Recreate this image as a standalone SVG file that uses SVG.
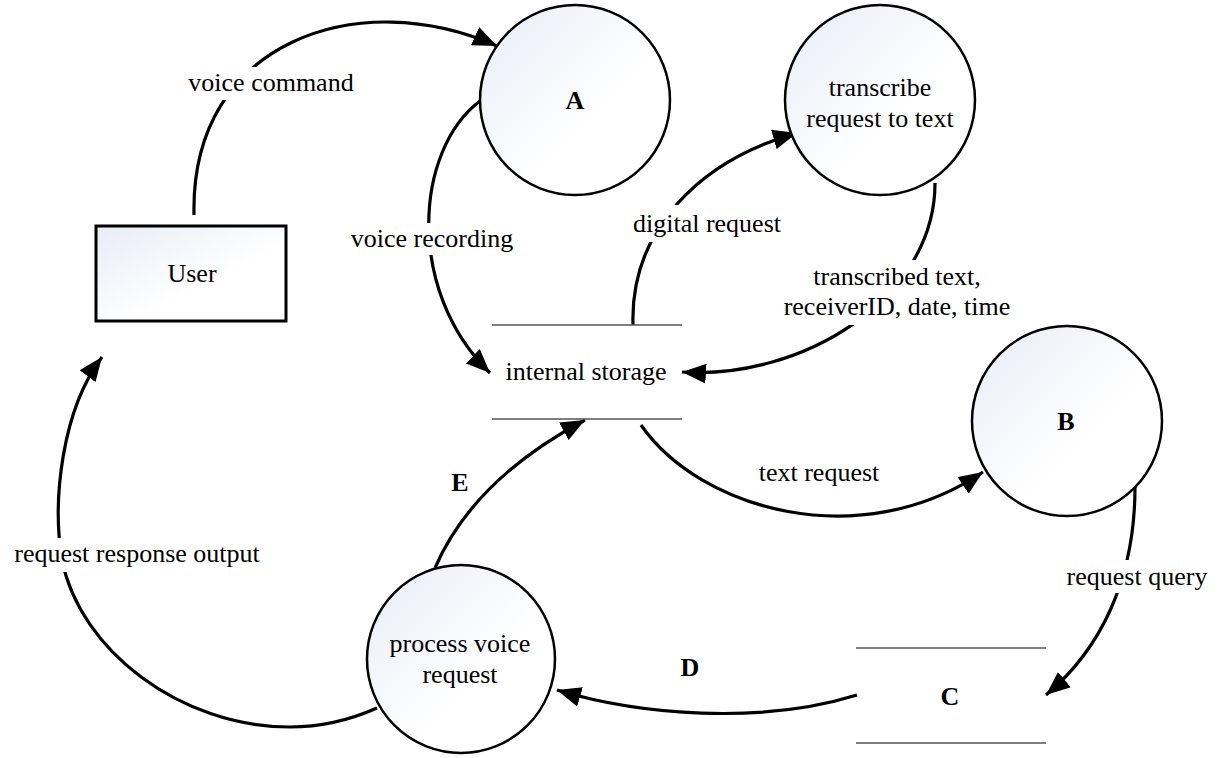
<svg xmlns="http://www.w3.org/2000/svg" width="1222" height="758" viewBox="0 0 1222 758" font-family="'Liberation Serif', 'Times New Roman', 'DejaVu Serif', serif">
<defs>
<linearGradient id="fill" x1="0" y1="0" x2="1" y2="1">
<stop offset="0" stop-color="#e8ecf6"/>
<stop offset="0.6" stop-color="#ffffff"/>
<stop offset="1" stop-color="#ffffff"/>
</linearGradient>
<marker id="arr" markerUnits="userSpaceOnUse" markerWidth="26" markerHeight="20" viewBox="0 0 26 20" refX="24" refY="10" orient="auto">
<path d="M0,0 L24,10 L0,20 Z" fill="#000"/>
</marker>
<style>
.t{font-family:'Liberation Serif','Times New Roman','DejaVu Serif',serif;font-size:26px;fill:#000;text-anchor:middle}
.b{font-weight:bold}
.proc{fill:url(#fill);stroke:#000;stroke-width:2.5}
.ent{fill:url(#fill);stroke:#000;stroke-width:3}
.store{stroke:#555;stroke-width:1.5}
.c{fill:none;stroke:#000;stroke-width:3.2;marker-end:url(#arr)}
.bg{fill:#fff}
</style>
</defs>
<rect width="1222" height="758" fill="#fff"/>
<g id="connectors">
<path class="c" d="M194,215 C190,40 360,-15 497,46"/>
<path class="c" d="M480,101 C415,150 405,290 490,373"/>
<path class="c" d="M633,325 C630,230 700,160 797,133"/>
<path class="c" d="M935,183 C935,300 800,380 682,372"/>
<path class="c" d="M641,425 C700,510 860,555 983,472"/>
<path class="c" d="M1135,487 C1135,580 1100,650 1046,695"/>
<path class="c" d="M857,695 C760,725 640,715 557,690"/>
<path class="c" d="M435,568 C460,510 510,460 585,420"/>
<path class="c" d="M377,708 C350,720 320,727 290,727 C180,727 80,650 62,560 C52,500 62,410 102,357"/>
<rect class="bg" x="184" y="67" width="174" height="33"/>
<text class="t" x="271" y="91">voice command</text>
<rect class="bg" x="350" y="223" width="164" height="32"/>
<text class="t" x="432" y="247">voice recording</text>
<rect class="bg" x="627" y="205" width="160" height="37"/>
<text class="t" x="707" y="232">digital request</text>
<rect class="bg" x="776" y="260" width="242" height="65"/>
<text class="t" x="897" y="285">transcribed text,</text>
<text class="t" x="897" y="315">receiverID, date, time</text>
<text class="t" x="819" y="481">text request</text>
<rect class="bg" x="1064" y="560" width="146" height="33"/>
<text class="t" x="1137" y="585">request query</text>
<rect class="bg" x="8" y="538" width="258" height="34"/>
<text class="t" x="137" y="562">request response output</text>
<text class="t b" x="690" y="676">D</text>
<text class="t b" x="460" y="491">E</text>
</g>
<g id="user">
<rect class="ent" x="96" y="226" width="190" height="95"/>
<text class="t" x="192" y="282">User</text>
</g>
<g id="A">
<circle class="proc" cx="575" cy="100" r="95"/>
<text class="t b" x="575" y="109">A</text>
</g>
<g id="transcribe">
<circle class="proc" cx="880" cy="100" r="95"/>
<text class="t" x="880" y="96">transcribe</text>
<text class="t" x="880" y="127">request to text</text>
</g>
<g id="storage">
<line class="store" x1="492" y1="325" x2="682" y2="325"/>
<line class="store" x1="492" y1="419" x2="682" y2="419"/>
<text class="t" x="586" y="380">internal storage</text>
</g>
<g id="B">
<circle class="proc" cx="1067" cy="421" r="95"/>
<text class="t b" x="1066" y="430">B</text>
</g>
<g id="C">
<line class="store" x1="856" y1="648" x2="1046" y2="648"/>
<line class="store" x1="856" y1="743" x2="1046" y2="743"/>
<text class="t b" x="950" y="705">C</text>
</g>
<g id="process">
<circle class="proc" cx="461" cy="659" r="94"/>
<text class="t" x="460" y="652">process voice</text>
<text class="t" x="460" y="683">request</text>
</g>
</svg>
